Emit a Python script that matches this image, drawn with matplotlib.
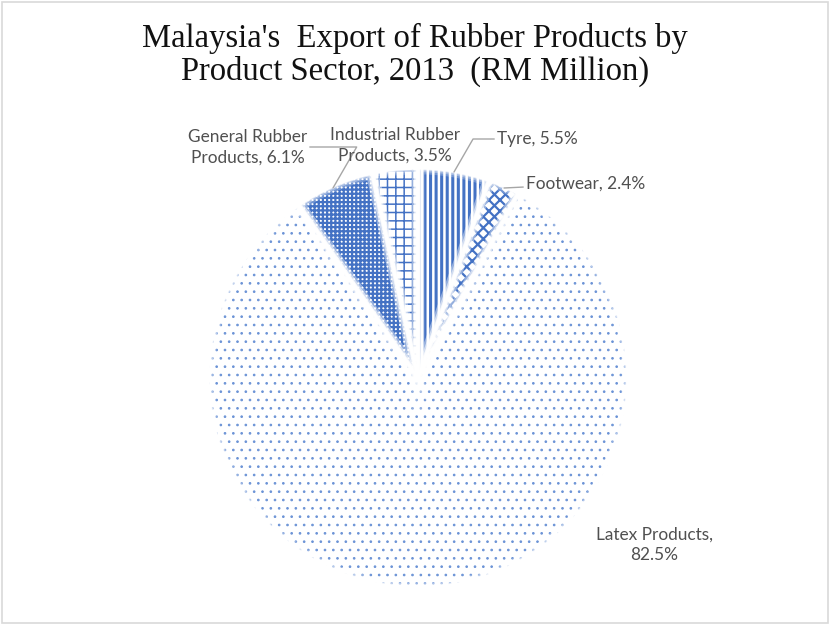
import matplotlib
matplotlib.use("Agg")
import matplotlib.pyplot as plt
from matplotlib.patches import Rectangle

# Data
categories = ["Tyre", "Footwear", "Latex Products", "General Rubber Products", "Industrial Rubber Products"]
shares = [5.5, 2.4, 82.5, 6.1, 3.5]
hatches = ["|||", "xxx", "..", "++++", "++"]
hatch_lws = [2.2, 1.6, 0.7, 1.6, 1.1]
hatch_cols = ["#4472C4", "#4472C4", "#6b93d6", "#4472C4", "#4472C4"]
label_texts = ["Tyre, 5.5%", "Footwear, 2.4%", "Latex Products,\n82.5%",
               "General Rubber\nProducts, 6.1%", "Industrial Rubber\nProducts, 3.5%"]

TXT = "#505050"
W, H = 830, 625
fig = plt.figure(figsize=(W / 100, H / 100), dpi=100)

# chart border
fig.patches.append(Rectangle((0.003, 0.003), 0.994, 0.994, transform=fig.transFigure,
                             fill=False, edgecolor="#d9d9d9", linewidth=1.2))

cx, cy, R = 418, 378, 210
ax = fig.add_axes([(cx - R) / W, (H - cy - R) / H, 2 * R / W, 2 * R / H])

wedges, _ = ax.pie(shares, startangle=90, counterclock=False, radius=1,
                   colors=["white"] * len(shares),
                   wedgeprops=dict(linewidth=0))
for w, h, lw, hc in zip(wedges, hatches, hatch_lws, hatch_cols):
    w.set_edgecolor(hc)
    w.set_linewidth(0)
    w.set_hatch(h)
    if hasattr(w, "set_hatch_linewidth"):
        w.set_hatch_linewidth(lw)
    else:
        w._hatch_linewidth = lw
# soft glow + white separators on top
for lw, a in [(9, 0.25), (6, 0.35), (3.5, 0.6), (2.2, 1.0)]:
    ws, _ = ax.pie(shares, startangle=90, counterclock=False, radius=1,
                   colors=["none"] * len(shares),
                   wedgeprops=dict(edgecolor="white", linewidth=lw, fill=False, alpha=a))
    for w in ws:
        w.set_zorder(3)
        w.set_joinstyle("miter")

ax.set_xlim(-1, 1)
ax.set_ylim(-1, 1)
ax.set_aspect("equal")
ax.axis("off")


def d(px, py):
    return ((px - cx) / R, (cy - py) / R)

font = dict(family=["Lato", "DejaVu Sans"], fontsize=12.4, color=TXT)
line_col = "#a6a6a6"

# Tyre
ax.annotate(label_texts[0], xy=d(454, 172), xytext=d(497, 139), ha="left", va="center",
            arrowprops=dict(arrowstyle="-", color=line_col, lw=1,
                            connectionstyle="angle,angleA=0,angleB=60,rad=0",
                            shrinkA=0, shrinkB=0), **font)
# Footwear
ax.annotate(label_texts[1], xy=d(504, 188), xytext=d(526, 184), ha="left", va="center",
            arrowprops=dict(arrowstyle="-", color=line_col, lw=1, shrinkA=0, shrinkB=0), **font)
# Latex
ax.text(*d(654, 545), label_texts[2], ha="center", va="center", multialignment="center",
        linespacing=1.35, **font)
# General
ax.annotate(label_texts[3], xy=d(333, 188), xytext=d(307, 147), ha="right", va="center",
            multialignment="center", linespacing=1.35,
            arrowprops=dict(arrowstyle="-", color=line_col, lw=1,
                            connectionstyle="angle,angleA=0,angleB=60,rad=0",
                            shrinkA=0, shrinkB=0), **font)
# Industrial
ax.text(*d(395, 145), label_texts[4], ha="center", va="center", multialignment="center",
        linespacing=1.35, **font)

fig.text(0.5, 1 - 55 / H, "Malaysia's  Export of Rubber Products by\nProduct Sector, 2013  (RM Million)",
         ha="center", va="center", family=["Liberation Serif", "DejaVu Serif"], fontsize=23.5,
         color="#111111", linespacing=1.08)

fig.savefig("out.png", dpi=100)
